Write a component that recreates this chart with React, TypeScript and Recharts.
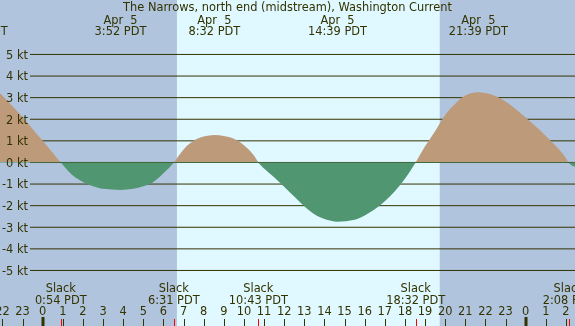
import React from "react";
import {
  ComposedChart,
  Area,
  XAxis,
  YAxis,
  ReferenceArea,
  ReferenceLine,
} from "recharts";

// ---- data (hours relative to Apr 5 00:00 PDT, current in knots) ----
const times = [
  -2.12, -1.6, -1.0, -0.5, 0, 0.5, 0.9, 1.5, 2, 2.5, 3, 3.87, 4.5, 5, 5.5, 6,
  6.52, 7, 7.5, 8, 8.53, 9, 9.5, 10, 10.5, 10.72, 11, 11.5, 12, 12.5, 13, 13.5,
  14, 14.65, 15.5, 16, 16.5, 17, 17.5, 18, 18.53, 19, 19.5, 20, 20.5, 21, 21.65,
  22, 22.5, 23, 23.5, 24, 24.5, 25, 25.5, 26, 26.13, 26.45,
];
const speeds = [
  3.2, 2.7, 2.1, 1.55, 1.0, 0.45, 0, -0.6, -0.9, -1.1, -1.22, -1.27, -1.22,
  -1.1, -0.9, -0.5, 0, 0.6, 1.0, 1.2, 1.27, 1.23, 1.1, 0.8, 0.32, 0, -0.28,
  -0.68, -1.12, -1.58, -2.03, -2.4, -2.62, -2.74, -2.65, -2.45, -2.17, -1.8,
  -1.33, -0.75, 0, 0.75, 1.45, 2.2, 2.72, 3.1, 3.25, 3.22, 3.08, 2.82, 2.48, 2.08,
  1.66, 1.23, 0.76, 0.2, 0, -0.2,
];

const hourTicks = [
  -2, -1, 0, 1, 2, 3, 4, 5, 6, 7, 8, 9, 10, 11, 12, 13, 14, 15, 16, 17, 18, 19,
  20, 21, 22, 23, 24, 25, 26,
];
const ktTicks = [-5, -4, -3, -2, -1, 0, 1, 2, 3, 4, 5];

const peakTimes = [-3.2, 3.867, 8.533, 14.65, 21.65];
const peakDates = ["Apr  4", "Apr  5", "Apr  5", "Apr  5", "Apr  5"];
const peakLabels = ["20:48 PDT", "3:52 PDT", "8:32 PDT", "14:39 PDT", "21:39 PDT"];

const slackTimes = [0.9, 6.517, 10.717, 18.533, 26.133];
const slackLabels = ["0:54 PDT", "6:31 PDT", "10:43 PDT", "18:32 PDT", "2:08 PDT"];

const sunrise = 6.67;
const sunset = 19.73;
const title = "The Narrows, north end (midstream), Washington Current";

// ---- styling ----
const W = 575;
const H = 326;
const X_DOMAIN: [number, number] = [-2.12, 26.45];
const Y_DOMAIN: [number, number] = [-7.57, 7.52];
const LINE_START = -0.63;
const TXT = "#333300";
const NIGHT = "#b0c4de";
const DAY = "#e0f8ff";
const FLOOD = "#bc9a7a";
const EBB = "#509670";
const FONT = "'DejaVu Sans', sans-serif";
const FS = 11.4;
const TINY = 0.01;
const zeroOffset = Y_DOMAIN[1] / (Y_DOMAIN[1] - Y_DOMAIN[0]);

const data = times.map((t, i) => ({ t, v: speeds[i] }));

const HourTick = (props: any) => {
  const { x, payload } = props;
  const h = payload.value as number;
  const lbl = ((h % 24) + 24) % 24;
  const mid = lbl === 0;
  const lx = Math.round(x) + (mid ? 0 : 0.5);
  return (
    <g>
      <text x={x} y={315} textAnchor="middle" fontSize={FS} fontFamily={FONT} fill={TXT}>
        {lbl}
      </text>
      <line x1={lx} x2={lx} y1={mid ? 317 : 319} y2={326} stroke={TXT} strokeWidth={mid ? 3 : 1} />
    </g>
  );
};

const SlackTick = (props: any) => {
  const { x, index } = props;
  const lx = Math.round(x) + 0.5;
  return (
    <g>
      <text x={x} y={291.5} textAnchor="middle" fontSize={FS} fontFamily={FONT} fill={TXT}>
        Slack
      </text>
      <text x={x} y={303.5} textAnchor="middle" fontSize={FS} fontFamily={FONT} fill={TXT}>
        {slackLabels[index]}
      </text>
      <line x1={lx} x2={lx} y1={319} y2={326} stroke="#ff0000" strokeWidth={1} />
    </g>
  );
};

const PeakTick = (props: any) => {
  const { x, index } = props;
  return (
    <g>
      <text
        x={x}
        y={23.5}
        textAnchor="middle"
        fontSize={FS}
        fontFamily={FONT}
        fill={TXT}
        style={{ whiteSpace: "pre" }}
      >
        {peakDates[index]}
      </text>
      <text x={x} y={35} textAnchor="middle" fontSize={FS} fontFamily={FONT} fill={TXT}>
        {peakLabels[index]}
      </text>
    </g>
  );
};

const KtTick = (props: any) => {
  const { y, payload } = props;
  return (
    <text x={28} y={y + 4.3} textAnchor="end" fontSize={FS} fontFamily={FONT} fill={TXT}>
      {payload.value} kt
    </text>
  );
};

export default function App() {
  return (
    <div style={{ position: "fixed", left: 0, top: 0, width: W, height: H }}>
      <ComposedChart
        width={W}
        height={H}
        data={data}
        margin={{ top: 0, right: 0, bottom: 0, left: 0 }}
      >
        <defs>
          <linearGradient id="flowFill" gradientUnits="userSpaceOnUse" x1={0} y1={0} x2={0} y2={H}>
            <stop offset={zeroOffset} stopColor={FLOOD} />
            <stop offset={zeroOffset} stopColor={EBB} />
          </linearGradient>
        </defs>
        <XAxis
          xAxisId="main"
          type="number"
          dataKey="t"
          domain={X_DOMAIN}
          allowDataOverflow
          ticks={hourTicks}
          interval={0}
          height={TINY}
          axisLine={false}
          tickLine={false}
          tick={(p: any) => <HourTick {...p} />}
        />
        <XAxis
          xAxisId="slack"
          type="number"
          dataKey="t"
          domain={X_DOMAIN}
          allowDataOverflow
          ticks={slackTimes}
          interval={0}
          height={TINY}
          axisLine={false}
          tickLine={false}
          tick={(p: any) => <SlackTick {...p} />}
        />
        <XAxis
          xAxisId="peak"
          orientation="top"
          type="number"
          dataKey="t"
          domain={X_DOMAIN}
          allowDataOverflow
          ticks={peakTimes}
          interval={0}
          height={TINY}
          axisLine={false}
          tickLine={false}
          tick={(p: any) => <PeakTick {...p} />}
        />
        <YAxis
          yAxisId="y"
          type="number"
          domain={Y_DOMAIN}
          allowDataOverflow
          ticks={ktTicks}
          interval={0}
          width={TINY}
          axisLine={false}
          tickLine={false}
          tick={(p: any) => <KtTick {...p} />}
        />
        <ReferenceArea
          xAxisId="main"
          yAxisId="y"
          x1={X_DOMAIN[0]}
          x2={X_DOMAIN[1]}
          y1={Y_DOMAIN[0]}
          y2={Y_DOMAIN[1]}
          fill={NIGHT}
          fillOpacity={1}
          stroke="none"
          zIndex={-300}
        />
        <ReferenceArea
          xAxisId="main"
          yAxisId="y"
          x1={sunrise}
          x2={sunset}
          y1={Y_DOMAIN[0]}
          y2={Y_DOMAIN[1]}
          fill={DAY}
          fillOpacity={1}
          stroke="none"
          zIndex={-250}
        />
        {ktTicks.map((k) => (
          <ReferenceLine
            key={k}
            xAxisId="main"
            yAxisId="y"
            segment={[
              { x: LINE_START, y: k },
              { x: X_DOMAIN[1], y: k },
            ]}
            stroke={TXT}
            strokeWidth={1}
            zIndex={-200}
          />
        ))}
        <Area
          xAxisId="main"
          yAxisId="y"
          type="monotone"
          dataKey="v"
          baseValue={0}
          fill="url(#flowFill)"
          fillOpacity={1}
          stroke="none"
          isAnimationActive={false}
          dot={false}
          activeDot={false}
          zIndex={100}
        />
        <text
          x={W / 2}
          y={11}
          textAnchor="middle"
          fontSize={FS}
          fontFamily={FONT}
          fill={TXT}
        >
          {title}
        </text>
      </ComposedChart>
    </div>
  );
}
